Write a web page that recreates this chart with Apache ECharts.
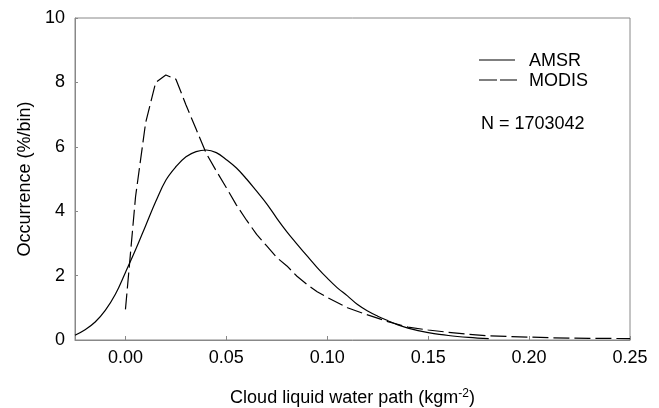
<!DOCTYPE html>
<html><head><meta charset="utf-8">
<script src="https://cdn.jsdelivr.net/npm/echarts@6/dist/echarts.min.js"></script>
<style>html,body{margin:0;padding:0;background:#fff}#c{width:659px;height:408px}</style>
</head><body><div id="c"></div>
<script>
var amsrX = [-0.025,-0.02,-0.015,-0.01,-0.005,0,0.005,0.01,0.015,0.02,0.025,0.03,0.035,0.04,0.045,0.05,0.055,0.06,0.065,0.07,0.075,0.08,0.085,0.09,0.095,0.10,0.105,0.11,0.115,0.12,0.125,0.13,0.135,0.14,0.145,0.15,0.16,0.17,0.18];
var amsrY = [0.15,0.32,0.56,0.92,1.42,2.1,2.8,3.55,4.3,4.96,5.38,5.69,5.85,5.9,5.82,5.6,5.34,5.0,4.62,4.23,3.78,3.36,2.98,2.61,2.25,1.92,1.62,1.37,1.1,0.9,0.74,0.6,0.47,0.37,0.29,0.23,0.14,0.08,0.04];
var modisX = [0,0.005,0.01,0.015,0.02,0.025,0.03,0.035,0.04,0.045,0.05,0.055,0.06,0.065,0.07,0.075,0.08,0.085,0.09,0.095,0.10,0.11,0.12,0.13,0.14,0.15,0.16,0.17,0.18,0.19,0.20,0.21,0.22,0.23,0.24,0.25];
var modisY = [0.95,4.45,6.75,8.0,8.23,8.1,7.3,6.55,5.8,5.25,4.73,4.19,3.72,3.28,2.92,2.56,2.3,1.98,1.72,1.5,1.32,1.0,0.78,0.57,0.4,0.31,0.24,0.18,0.13,0.11,0.09,0.07,0.06,0.05,0.05,0.04];
var xTicks = [0,0.05,0.10,0.15,0.20,0.25];
var seriesNames = ['AMSR','MODIS'];
var note = 'N = 1703042';

var FONT = '"Liberation Sans", Arial, sans-serif';
var FS = 18;
function zip(a,b){return a.map(function(v,i){return [v,b[i]];});}
var chart = echarts.init(document.getElementById('c'), null, {renderer:'canvas'});
var dash = [16,5];
chart.setOption({
  animation:false,
  backgroundColor:'#fff',
  grid:{left:75,right:29,top:18,bottom:68,outerBoundsMode:'none',containLabel:false,show:true,borderColor:'#888',borderWidth:1,backgroundColor:'transparent'},
  graphic:[
    {type:'line',shape:{x1:479,y1:60,x2:515,y2:60},style:{stroke:'#000',lineWidth:1.2}},
    {type:'text',left:529,top:52,style:{text:seriesNames[0],font:FS+'px '+FONT,fill:'#000'}},
    {type:'line',shape:{x1:479,y1:80,x2:517,y2:80},style:{stroke:'#000',lineWidth:1.2,lineDash:[18,3]}},
    {type:'text',left:529,top:72,style:{text:seriesNames[1],font:FS+'px '+FONT,fill:'#000'}},
    {type:'text',left:481,top:115,style:{text:note,font:FS+'px '+FONT,fill:'#000'}}
  ],
  xAxis:{
    type:'value', min:-0.025, max:0.25,
    name:'Cloud liquid water path (kgm{sup|-2})',
    nameLocation:'middle', nameGap:48,
    nameTextStyle:{fontFamily:FONT,fontSize:FS,color:'#000',rich:{sup:{fontFamily:FONT,fontSize:12,color:'#000',verticalAlign:'top',padding:[0,0,8,0]}}},
    axisLine:{show:true,onZero:false,lineStyle:{color:'#888',width:1}},
    axisTick:{show:true,inside:true,length:4,lineStyle:{color:'#888'},customValues:xTicks},
    axisLabel:{fontFamily:FONT,fontSize:FS,color:'#000',margin:9,customValues:xTicks,formatter:function(v){return v.toFixed(2);}},
    splitLine:{show:false}
  },
  yAxis:{
    type:'value', min:0, max:10, interval:2,
    name:'Occurrence (%/bin)', nameLocation:'middle', nameGap:41,
    nameTextStyle:{fontFamily:FONT,fontSize:FS,color:'#000'},
    axisLine:{show:true,onZero:false,lineStyle:{color:'#888',width:1}},
    axisTick:{show:true,inside:true,length:3,lineStyle:{color:'#888'}},
    axisLabel:{fontFamily:FONT,fontSize:FS,color:'#000',margin:10},
    splitLine:{show:false}
  },
  series:[
    {name:seriesNames[0],type:'line',data:zip(amsrX,amsrY),smooth:0.4,symbol:'none',
     lineStyle:{color:'#000',width:1.2},itemStyle:{color:'#000'}},
    {name:seriesNames[1],type:'line',data:zip(modisX,modisY),smooth:false,symbol:'none',
     lineStyle:{color:'#000',width:1.2,type:dash},itemStyle:{color:'#000'}}
  ]
});
</script></body></html>
